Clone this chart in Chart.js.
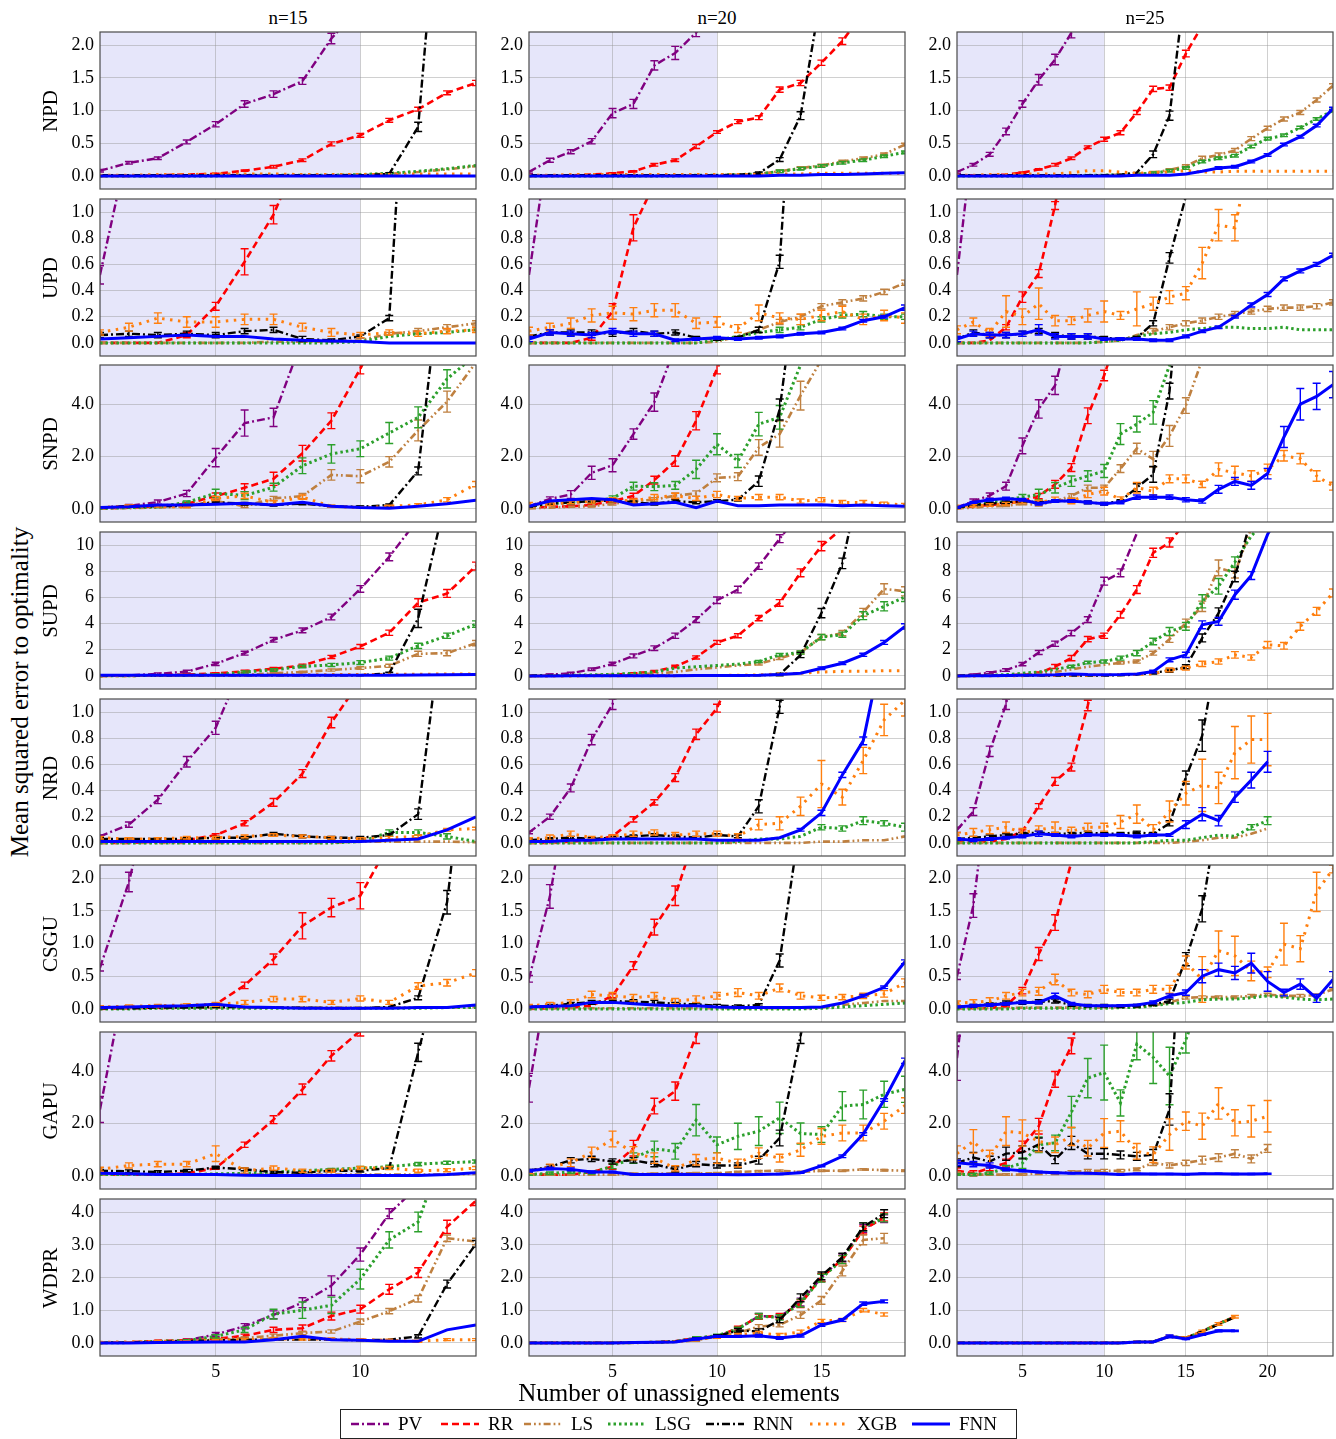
<!DOCTYPE html>
<html>
<head>
<meta charset="utf-8">
<script src="https://cdn.jsdelivr.net/npm/chart.js@4.4.1/dist/chart.umd.min.js"></script>
<style>
  body { margin: 0; background: #fff; width: 1336px; height: 1439px; position: relative; overflow: hidden; }
  canvas.panel { position: absolute; }
  .txt { position: absolute; white-space: nowrap; color: #000; font-family: 'Liberation Serif', serif; z-index: 5; }
</style>
</head>
<body>
<script>
// ---- categories / axes ----
const COL_TITLES = ['n=15', 'n=20', 'n=25'];
const ROWS = ['NPD', 'UPD', 'SNPD', 'SUPD', 'NRD', 'CSGU', 'GAPU', 'WDPR'];
const SERIES = ['PV', 'RR', 'LS', 'LSG', 'RNN', 'XGB', 'FNN'];
const X_MAX = [14, 19, 24];
const X_TICKS = [[5, 10], [5, 10, 15], [5, 10, 15, 20]];
const SHADE_TO = 10;
const Y_RANGE = { NPD: [-0.2, 2.2], UPD: [-0.1, 1.1], SNPD: [-0.5, 5.5], SUPD: [-1, 11],
                  NRD: [-0.1, 1.1], CSGU: [-0.2, 2.2], GAPU: [-0.5, 5.5], WDPR: [-0.4, 4.4] };
const Y_TICKS = { NPD: [0, 0.5, 1, 1.5, 2], UPD: [0, 0.2, 0.4, 0.6, 0.8, 1], SNPD: [0, 2, 4],
                  SUPD: [0, 2, 4, 6, 8, 10], NRD: [0, 0.2, 0.4, 0.6, 0.8, 1], CSGU: [0, 0.5, 1, 1.5, 2],
                  GAPU: [0, 2, 4], WDPR: [0, 1, 2, 3, 4] };

// ---- NPD ----
const NPD_15 = {
  PV:  [0.08,0.2,0.27,0.52,0.79,1.1,1.25,1.45,2.1,2.6],
  RR:  [0,0,0.01,0.02,0.03,0.08,0.14,0.24,0.49,0.62,0.85,1.02,1.27,1.42],
  LS:  [0,0,0,0,0.01,0.01,0.01,0.01,0.01,0.02,0.03,0.06,0.1,0.15],
  LSG: [0,0,0,0,0,0.01,0.01,0.01,0.01,0.02,0.04,0.07,0.11,0.16],
  RNN: [0.01,0.01,0.01,0.01,0.01,0.01,0.01,0.01,0.01,0.01,0.03,0.75,5.9],
  XGB: [0.01,0.01,0.02,0.02,0.03,0.03,0.03,0.02,0.02,0.02,0.02,0.03,0.03,0.03],
  FNN: [0,0,0,0,0,0,0,0,0,0,0,0,0,0]
};
const NPD_15_ERR = {
  PV:  [0.02,0.02,0.02,0.03,0.04,0.05,0.05,0.05,0.08],
  RR:  [0,0,0,0,0.01,0.01,0.02,0.02,0.03,0.03,0.03,0.03,0.03,0.04],
  RNN: [0,0,0,0,0,0,0,0,0,0,0.02,0.07]
};
const NPD_20 = {
  PV:  [0.06,0.24,0.37,0.53,0.96,1.1,1.69,1.88,2.19,2.6],
  RR:  [0,0,0.01,0.02,0.04,0.07,0.17,0.24,0.45,0.67,0.83,0.89,1.32,1.42,1.73,2.06,2.5],
  LS:  [0,0,0,0,0,0,0,0.01,0.01,0.01,0.02,0.03,0.07,0.12,0.16,0.22,0.27,0.33,0.48],
  LSG: [0,0,0,0,0,0,0,0,0.01,0.01,0.02,0.03,0.07,0.11,0.15,0.2,0.24,0.3,0.36],
  RNN: [0.01,0.01,0.01,0.01,0.01,0.01,0.01,0.01,0.01,0.01,0.02,0.04,0.25,0.92,2.8],
  XGB: [0.01,0.01,0.02,0.02,0.02,0.02,0.02,0.02,0.02,0.02,0.02,0.02,0.03,0.03,0.04,0.04,0.04,0.04,0.04],
  FNN: [0,0,0,0,0,0,0,0,0,0,0,0,0.01,0.01,0.02,0.02,0.03,0.04,0.05]
};
const NPD_20_ERR = {
  PV:  [0.02,0.03,0.03,0.04,0.07,0.07,0.07,0.1,0.06],
  RR:  [0,0,0,0,0.01,0.01,0.02,0.02,0.03,0.02,0.03,0.03,0.04,0.04,0.04,0.05],
  RNN: [0,0,0,0,0,0,0,0,0,0,0,0.02,0.03,0.06],
  LS:  [0,0,0,0,0,0,0,0,0,0,0,0,0.02,0.02,0.02,0.02,0.02,0.02,0.02],
  LSG: [0,0,0,0,0,0,0,0,0,0,0,0,0.02,0.02,0.02,0.02,0.02,0.02,0.02]
};
const NPD_25 = {
  PV:  [0.06,0.17,0.33,0.68,1.1,1.47,1.78,2.19,2.7],
  RR:  [0.01,0.01,0.01,0.02,0.05,0.1,0.17,0.27,0.44,0.56,0.66,0.97,1.33,1.35,1.87,2.3],
  LS:  [0,0,0,0,0,0,0,0.01,0.01,0.01,0.02,0.03,0.05,0.09,0.15,0.27,0.32,0.39,0.57,0.73,0.87,0.97,1.16,1.38],
  LSG: [0,0,0,0,0,0,0,0,0.01,0.01,0.02,0.03,0.04,0.08,0.12,0.22,0.27,0.31,0.45,0.57,0.62,0.74,0.87,1.0],
  RNN: [0.01,0.01,0.01,0.01,0.01,0.01,0.01,0.01,0.01,0.01,0.02,0.05,0.33,0.92,3.0],
  XGB: [0.01,0.01,0.02,0.02,0.03,0.03,0.03,0.05,0.08,0.08,0.06,0.04,0.05,0.06,0.08,0.06,0.06,0.07,0.07,0.07,0.07,0.07,0.07,0.07],
  FNN: [0,0,0,0,0,0,0,0,0,0,0,0.01,0.01,0.01,0.03,0.07,0.12,0.14,0.22,0.32,0.48,0.6,0.77,1.03]
};
const NPD_25_ERR = {
  PV:  [0.02,0.02,0.03,0.05,0.05,0.08,0.08,0.08],
  RR:  [0,0,0,0,0.01,0.01,0.02,0.02,0.02,0.03,0.03,0.03,0.04,0.04,0.05],
  RNN: [0,0,0,0,0,0,0,0,0,0,0,0,0.05,0.07],
  LS:  [0,0,0,0,0,0,0,0,0,0,0,0,0.02,0.02,0.02,0.03,0.03,0.03,0.03,0.03,0.03,0.03,0.03,0.03],
  LSG: [0,0,0,0,0,0,0,0,0,0,0,0,0.02,0.02,0.02,0.02,0.02,0.02,0.02,0.02,0.02,0.02,0.02,0.02],
  FNN: [0,0,0,0,0,0,0,0,0,0,0,0,0,0,0,0,0.02,0.02,0.02,0.02,0.02,0.02,0.02,0.02]
};

// ---- UPD ----
const UPD_15 = {
  PV:  [0.52,1.53],
  RR:  [0,0,0,0.06,0.28,0.62,0.98,1.5],
  LS:  [0,0,0,0,0,0,0.01,0.01,0.01,0.02,0.07,0.09,0.12,0.15],
  LSG: [0,0,0,0,0,0,0,0,0,0.01,0.05,0.07,0.08,0.1],
  RNN: [0.06,0.07,0.06,0.07,0.06,0.09,0.1,0.03,0.02,0.05,0.19,3.8],
  XGB: [0.08,0.12,0.19,0.16,0.16,0.18,0.18,0.12,0.08,0.06,0.08,0.07,0.09,0.1],
  FNN: [0.03,0.04,0.05,0.06,0.05,0.05,0.03,0.02,0.015,0.01,0,0,0,0]
};
const UPD_15_ERR = {
  PV:  [0.07],
  RR:  [0,0,0,0.02,0.03,0.1,0.07],
  XGB: [0.02,0.03,0.04,0.04,0.04,0.04,0.04,0.03,0.03,0.02,0.02,0.02,0.02,0.02],
  RNN: [0.02,0.02,0.02,0.02,0.02,0.02,0.02,0.02,0.01,0.01,0.02],
  LS:  [0,0,0,0,0,0,0,0,0,0,0.01,0.02,0.02,0.02]
};
const UPD_20 = {
  PV:  [0.52,1.6],
  RR:  [0,0,0,0.04,0.24,0.88,1.22],
  LS:  [0,0,0,0,0,0,0,0,0,0.01,0.05,0.1,0.16,0.2,0.28,0.31,0.34,0.39,0.46],
  LSG: [0,0,0,0,0,0,0,0,0,0.02,0.05,0.08,0.1,0.12,0.18,0.21,0.22,0.2,0.2],
  RNN: [0.05,0.08,0.08,0.08,0.07,0.09,0.07,0.08,0.04,0.03,0.04,0.1,0.62,3.0],
  XGB: [0.09,0.12,0.15,0.21,0.23,0.22,0.25,0.25,0.15,0.16,0.11,0.23,0.19,0.18,0.21,0.24,0.18,0.21,0.19],
  FNN: [0.03,0.08,0.07,0.06,0.09,0.07,0.07,0.02,0.03,0.04,0.03,0.04,0.05,0.07,0.08,0.11,0.17,0.2,0.27]
};
const UPD_20_ERR = {
  RR:  [0,0,0,0.02,0.06,0.1],
  RNN: [0.01,0.02,0.02,0.02,0.02,0.02,0.02,0.02,0.01,0.01,0.01,0.02,0.05],
  XGB: [0.03,0.03,0.04,0.05,0.05,0.05,0.05,0.05,0.04,0.04,0.03,0.06,0.04,0.04,0.04,0.04,0.04,0.04,0.04],
  LS:  [0,0,0,0,0,0,0,0,0,0,0,0.02,0.02,0.02,0.02,0.02,0.02,0.02,0.02],
  LSG: [0,0,0,0,0,0,0,0,0,0,0,0,0.02,0.02,0.02,0.02,0.02,0.02,0.02],
  FNN: [0.02,0.02,0.02,0.02,0.02,0.02,0.02,0.01,0.01,0.01,0.01,0.01,0.01,0.01,0.01,0.01,0.01,0.01,0.02]
};
const UPD_25 = {
  PV:  [0.52,1.6],
  RR:  [0,0,0.02,0.12,0.35,0.53,1.05,1.8],
  LS:  [0,0,0,0,0,0,0,0,0,0.01,0.02,0.06,0.09,0.12,0.15,0.17,0.2,0.22,0.24,0.26,0.27,0.27,0.28,0.31],
  LSG: [0,0,0,0,0,0,0,0,0,0.01,0.02,0.05,0.07,0.08,0.1,0.11,0.12,0.12,0.11,0.11,0.12,0.1,0.1,0.1],
  RNN: [0.03,0.08,0.06,0.06,0.07,0.09,0.06,0.05,0.05,0.04,0.03,0.04,0.15,0.65,1.12,1.8],
  XGB: [0.1,0.16,0.08,0.24,0.2,0.3,0.17,0.17,0.21,0.24,0.21,0.26,0.3,0.35,0.38,0.61,0.9,0.88,1.5],
  FNN: [0.03,0.07,0.06,0.06,0.07,0.1,0.05,0.05,0.05,0.03,0.03,0.03,0.02,0.02,0.05,0.09,0.12,0.2,0.29,0.37,0.49,0.55,0.6,0.67]
};
const UPD_25_ERR = {
  RR:  [0,0,0,0.02,0.04,0.03,0.03],
  XGB: [0.03,0.03,0.03,0.12,0.06,0.12,0.04,0.03,0.05,0.08,0.03,0.13,0.05,0.05,0.05,0.12,0.12,0.1],
  RNN: [0.02,0.02,0.02,0.02,0.02,0.02,0.02,0.02,0.02,0.01,0.01,0.01,0.02,0.04],
  LS:  [0,0,0,0,0,0,0,0,0,0,0,0,0.02,0.02,0.02,0.02,0.02,0.02,0.02,0.02,0.02,0.02,0.02,0.02],
  FNN: [0.02,0.02,0.02,0.02,0.02,0.04,0.02,0.02,0.02,0.01,0.01,0.01,0.01,0.01,0.01,0.01,0.01,0.01,0.015,0.015,0.015,0.015,0.015,0.015]
};

// ---- SNPD ----
const SNPD_15 = {
  PV:  [0.05,0.12,0.26,0.59,1.96,3.28,3.5,6.5],
  RR:  [0.02,0.05,0.1,0.2,0.49,0.81,1.15,2.13,3.37,5.36,7.5],
  LS:  [0.02,0.03,0.05,0.1,0.3,0.1,0.4,0.49,1.3,1.25,1.8,3.0,4.1,5.6],
  LSG: [0.02,0.05,0.08,0.25,0.6,0.51,0.83,1.65,2.1,2.3,2.9,3.5,4.97,5.9],
  RNN: [0.05,0.1,0.1,0.12,0.25,0.2,0.15,0.2,0.1,0.08,0.15,1.45,11],
  XGB: [0.05,0.12,0.1,0.07,0.4,0.5,0.25,0.45,0.1,0.05,0.1,0.15,0.35,0.95],
  FNN: [0.05,0.08,0.15,0.15,0.18,0.22,0.15,0.25,0.1,0.05,0.03,0.1,0.2,0.33]
};
const SNPD_15_ERR = {
  PV:  [0.03,0.05,0.08,0.12,0.35,0.5,0.35],
  RR:  [0,0,0.03,0.05,0.12,0.15,0.25,0.3,0.3,0.2],
  LSG: [0,0,0.03,0.05,0.15,0.15,0.15,0.3,0.35,0.3,0.4,0.4,0.35],
  LS:  [0,0,0,0.03,0.08,0.05,0.08,0.1,0.2,0.25,0.2,0.4,0.4],
  RNN: [0,0,0,0,0.05,0.05,0.04,0.04,0.03,0.03,0.04,0.15],
  XGB: [0.02,0.03,0.03,0.03,0.08,0.1,0.06,0.08,0.04,0.03,0.04,0.05,0.08,0.1]
};
const SNPD_20 = {
  PV:  [0.1,0.38,0.55,1.38,1.67,2.86,4.08,6.2],
  RR:  [0.05,0.08,0.1,0.15,0.3,0.5,1.1,1.83,3.37,5.36,7.0],
  LS:  [0.02,0.05,0.08,0.1,0.2,0.3,0.35,0.51,0.59,1.19,1.23,2.35,2.86,4.33,5.7],
  LSG: [0.1,0.2,0.25,0.3,0.4,0.87,0.85,0.9,1.51,2.47,1.83,3.24,3.5,5.5,7.0],
  RNN: [0.1,0.2,0.25,0.3,0.32,0.25,0.2,0.3,0.25,0.3,0.35,1.06,3.8,10],
  XGB: [0.2,0.18,0.25,0.28,0.35,0.3,0.45,0.5,0.4,0.55,0.4,0.45,0.45,0.3,0.35,0.25,0.25,0.2,0.15],
  FNN: [0.1,0.3,0.35,0.4,0.35,0.15,0.2,0.25,0.05,0.3,0.12,0.12,0.15,0.15,0.16,0.12,0.15,0.12,0.1]
};
const SNPD_20_ERR = {
  PV:  [0.03,0.08,0.15,0.25,0.25,0.2,0.35],
  RR:  [0,0,0.03,0.05,0.08,0.1,0.15,0.2,0.35,0.2],
  LSG: [0.03,0.05,0.05,0.08,0.1,0.15,0.15,0.15,0.35,0.4,0.25,0.45,0.45],
  LS:  [0,0,0,0.03,0.05,0.05,0.08,0.1,0.1,0.15,0.15,0.3,0.5,0.55],
  RNN: [0.03,0.05,0.05,0.05,0.05,0.05,0.05,0.05,0.05,0.05,0.05,0.2,0.4],
  XGB: [0.05,0.05,0.05,0.06,0.08,0.08,0.1,0.1,0.08,0.12,0.08,0.1,0.1,0.08,0.08,0.07,0.07,0.06,0.06]
};
const SNPD_25 = {
  PV:  [0.05,0.3,0.51,0.87,2.41,3.82,4.72,7.1],
  RR:  [0.02,0.1,0.15,0.2,0.3,0.49,0.94,1.58,3.56,5.1,7.0],
  LS:  [0.02,0.05,0.1,0.12,0.2,0.15,0.3,0.5,0.81,0.81,1.54,2.31,1.9,2.79,3.95,5.7],
  LSG: [0.05,0.15,0.25,0.35,0.45,0.55,0.81,1.06,1.26,1.45,2.86,3.24,3.69,5.49,7.0],
  RNN: [0.05,0.15,0.2,0.25,0.3,0.25,0.3,0.3,0.25,0.2,0.3,0.81,1.32,4.5,11],
  XGB: [0.1,0.12,0.15,0.2,0.3,0.25,0.35,0.3,0.55,0.68,0.36,0.81,0.68,1.15,1.15,0.94,1.51,1.38,1.26,1.51,2.03,1.92,1.26,0.87],
  FNN: [0.05,0.25,0.35,0.4,0.35,0.2,0.3,0.3,0.25,0.2,0.25,0.45,0.45,0.45,0.35,0.3,0.75,1.05,0.9,1.35,2.75,4.0,4.3,4.75]
};
const SNPD_25_ERR = {
  PV:  [0.03,0.08,0.1,0.15,0.3,0.35,0.35],
  RR:  [0,0,0.03,0.05,0.05,0.1,0.15,0.15,0.3,0.2],
  LSG: [0.02,0.04,0.05,0.08,0.1,0.2,0.2,0.2,0.2,0.25,0.4,0.3,0.45],
  LS:  [0,0,0,0.03,0.04,0.04,0.05,0.08,0.1,0.1,0.15,0.2,0.3,0.4,0.3],
  RNN: [0.02,0.04,0.04,0.05,0.05,0.05,0.05,0.05,0.05,0.05,0.05,0.15,0.3,0.3],
  XGB: [0.03,0.04,0.05,0.05,0.08,0.08,0.1,0.1,0.12,0.15,0.1,0.2,0.15,0.15,0.15,0.12,0.25,0.25,0.2,0.2,0.2,0.2,0.2,0.15],
  FNN: [0.02,0.04,0.05,0.05,0.05,0.05,0.05,0.05,0.05,0.05,0.05,0.08,0.08,0.08,0.08,0.08,0.15,0.15,0.15,0.2,0.4,0.6,0.5,0.5]
};

// ---- SUPD ----
const SUPD_15 = {
  PV:  [0,0.05,0.15,0.33,0.92,1.74,2.76,3.48,4.5,6.65,9.1,12],
  RR:  [0,0.02,0.05,0.1,0.2,0.35,0.55,0.8,1.45,2.25,3.3,5.6,6.3,8.4],
  LS:  [0,0,0.02,0.03,0.05,0.08,0.2,0.3,0.45,0.6,0.77,1.69,1.74,2.51],
  LSG: [0,0.02,0.03,0.05,0.1,0.3,0.46,0.72,0.84,1.02,1.36,2.3,3.07,3.96],
  RNN: [0.05,0.05,0.05,0.05,0.05,0.05,0.05,0.05,0.05,0.05,0.2,4.4,14],
  XGB: [0.02,0.02,0.03,0.03,0.05,0.05,0.08,0.08,0.1,0.1,0.12,0.12,0.15,0.15],
  FNN: [0.05,0.05,0.05,0.05,0.05,0.05,0.05,0.05,0.05,0.05,0.06,0.07,0.08,0.1]
};
const SUPD_15_ERR = {
  PV:  [0.02,0.05,0.08,0.1,0.12,0.15,0.18,0.18,0.22,0.25,0.3],
  RR:  [0,0,0,0.05,0.05,0.08,0.1,0.1,0.12,0.15,0.2,0.3,0.3,0.3],
  LSG: [0,0,0,0,0.05,0.08,0.1,0.1,0.12,0.15,0.15,0.2,0.2,0.25],
  LS:  [0,0,0,0,0,0.05,0.05,0.06,0.08,0.1,0.12,0.2,0.2,0.2],
  RNN: [0,0,0,0,0,0,0,0,0,0,0.08,0.7]
};
const SUPD_20 = {
  PV:  [0,0.1,0.2,0.51,0.92,1.53,2.12,3.07,4.3,5.78,6.6,8.39,10.49,12.5],
  RR:  [0,0.02,0.03,0.05,0.08,0.2,0.33,0.72,1.41,2.56,3.07,4.42,5.58,7.88,9.92,11.3],
  LS:  [0,0.02,0.03,0.05,0.08,0.12,0.18,0.3,0.5,0.65,0.8,0.92,1.36,1.79,2.97,3.27,4.86,6.65,6.47],
  LSG: [0,0.02,0.05,0.08,0.12,0.2,0.3,0.6,0.7,0.8,0.9,1.1,1.61,1.79,2.97,3.15,4.6,5.32,6.04],
  RNN: [0.02,0.02,0.02,0.02,0.02,0.02,0.02,0.02,0.02,0.02,0.02,0.05,0.1,1.6,4.8,8.6,16],
  XGB: [0,0,0,0.01,0.01,0.01,0.02,0.02,0.03,0.03,0.05,0.08,0.15,0.2,0.3,0.35,0.35,0.4,0.4],
  FNN: [0,0,0.01,0.01,0.01,0.02,0.02,0.02,0.03,0.03,0.04,0.05,0.1,0.2,0.59,0.97,1.61,2.56,3.79]
};
const SUPD_20_ERR = {
  PV:  [0,0.05,0.08,0.1,0.12,0.15,0.18,0.2,0.22,0.25,0.25,0.25,0.3],
  RR:  [0,0,0,0,0,0.05,0.08,0.1,0.12,0.15,0.15,0.2,0.25,0.3,0.35],
  LS:  [0,0,0,0,0,0,0,0,0,0,0,0.08,0.1,0.12,0.2,0.2,0.3,0.4,0.35],
  LSG: [0,0,0,0,0,0,0,0,0,0,0,0.08,0.1,0.12,0.2,0.2,0.3,0.35,0.35],
  RNN: [0,0,0,0,0,0,0,0,0,0,0,0,0.1,0.2,0.35,0.4],
  FNN: [0,0,0,0,0,0,0,0,0,0,0,0,0,0,0.1,0.1,0.12,0.15,0.2]
};
const SUPD_25 = {
  PV:  [0,0.1,0.25,0.45,0.9,1.79,2.46,3.27,4.3,7.24,7.88,10.9,13],
  RR:  [0,0.02,0.03,0.05,0.1,0.2,0.72,1.36,2.81,3.07,4.68,6.6,9.41,10.2,11.8],
  LS:  [0,0.02,0.03,0.05,0.1,0.15,0.3,0.5,0.7,0.85,1.0,1.1,1.74,2.81,4.04,5.32,8.26,7.88,11.3],
  LSG: [0,0.02,0.05,0.1,0.2,0.3,0.5,0.72,1.02,1.1,1.36,1.74,2.63,3.4,3.79,5.7,6.85,8.7,10.7,12],
  RNN: [0.02,0.02,0.02,0.02,0.02,0.02,0.02,0.02,0.03,0.03,0.05,0.1,0.25,0.4,0.7,2.9,4.8,7.6,12],
  XGB: [0,0,0.01,0.01,0.02,0.03,0.04,0.05,0.06,0.08,0.1,0.12,0.15,0.46,0.59,0.92,1.1,1.61,1.41,2.38,2.3,3.79,4.94,6.34],
  FNN: [0,0.01,0.02,0.03,0.05,0.06,0.08,0.15,0.1,0.08,0.1,0.15,0.33,1.23,1.61,3.91,4.17,6.21,7.67,10.82,13]
};
const SUPD_25_ERR = {
  PV:  [0,0.05,0.08,0.1,0.12,0.15,0.2,0.2,0.22,0.3,0.3],
  RR:  [0,0,0,0,0,0.1,0.15,0.2,0.2,0.2,0.25,0.3,0.35,0.35],
  LSG: [0,0,0,0,0,0,0,0.1,0.1,0.12,0.15,0.2,0.25,0.3,0.3,0.5,0.6,0.4],
  LS:  [0,0,0,0,0,0,0,0,0,0,0.1,0.12,0.15,0.25,0.3,0.4,0.6,0.4],
  RNN: [0,0,0,0,0,0,0,0,0,0,0,0,0.1,0.12,0.15,0.3,0.4,0.4],
  XGB: [0,0,0,0,0,0,0,0,0,0,0,0,0,0.15,0.15,0.2,0.2,0.25,0.2,0.25,0.25,0.3,0.3,0.3],
  FNN: [0,0,0,0,0,0,0,0,0,0,0,0,0.1,0.15,0.2,0.3,0.3,0.35,0.3]
};

// ---- NRD ----
const NRD_15 = {
  PV:  [0.05,0.14,0.33,0.62,0.88,1.4],
  RR:  [0,0,0.01,0.02,0.06,0.15,0.31,0.53,0.92,1.24],
  LS:  [0,0,0,0,0,0,0,0,0,0.01,0.01,0.01,0.01,0.005],
  LSG: [0,0,0,0,0,0,0,0,0,0.01,0.08,0.08,0.05,0.01],
  RNN: [0.03,0.03,0.03,0.03,0.04,0.04,0.07,0.05,0.04,0.04,0.06,0.22,1.98],
  XGB: [0.04,0.03,0.03,0.04,0.04,0.05,0.06,0.05,0.04,0.03,0.04,0.05,0.1,0.11],
  FNN: [0.01,0.01,0.01,0.01,0.01,0.01,0.01,0.01,0.01,0.01,0.02,0.03,0.1,0.2]
};
const NRD_15_ERR = {
  PV:  [0.01,0.02,0.03,0.04,0.05],
  RR:  [0,0,0,0,0.01,0.02,0.03,0.03,0.04],
  RNN: [0.01,0.01,0.01,0.01,0.01,0.01,0.01,0.01,0.01,0.01,0.01,0.04],
  XGB: [0.01,0.01,0.01,0.01,0.01,0.01,0.01,0.01,0.01,0.01,0.01,0.01,0.01,0.01],
  LSG: [0,0,0,0,0,0,0,0,0,0,0.02,0.02,0.02]
};
const NRD_20 = {
  PV:  [0.08,0.2,0.42,0.79,1.06,1.7],
  RR:  [0,0,0.01,0.02,0.05,0.18,0.31,0.5,0.83,1.03,1.4],
  LS:  [0,0,0,0,0,0,0,0,0,0,0,0,0,0,0.01,0.01,0.02,0.02,0.05],
  LSG: [0,0,0,0,0,0,0,0,0,0,0.01,0.03,0.03,0.05,0.12,0.11,0.17,0.15,0.12],
  RNN: [0.02,0.03,0.04,0.03,0.04,0.05,0.06,0.05,0.04,0.06,0.05,0.28,1.04,2.0],
  XGB: [0.03,0.04,0.07,0.04,0.05,0.07,0.08,0.06,0.07,0.07,0.05,0.14,0.15,0.28,0.45,0.35,0.63,0.94,1.09],
  FNN: [0.01,0.01,0.02,0.02,0.03,0.03,0.03,0.03,0.03,0.02,0.02,0.02,0.04,0.1,0.23,0.52,0.78,1.55]
};
const NRD_20_ERR = {
  PV:  [0.01,0.02,0.03,0.04,0.04],
  RR:  [0,0,0,0,0.01,0.02,0.02,0.03,0.04,0.03],
  RNN: [0.01,0.01,0.01,0.01,0.01,0.01,0.01,0.01,0.01,0.01,0.01,0.05,0.05],
  XGB: [0.01,0.02,0.02,0.01,0.01,0.02,0.02,0.02,0.02,0.02,0.02,0.04,0.05,0.07,0.18,0.06,0.1,0.12,0.12],
  LSG: [0,0,0,0,0,0,0,0,0,0,0,0,0,0,0.02,0.02,0.03,0.02,0.03],
  FNN: [0,0,0,0,0,0,0,0,0,0,0,0,0,0.01,0.02,0.02,0.03]
};
const NRD_25 = {
  PV:  [0.1,0.24,0.7,1.06,1.7],
  RR:  [0.01,0.01,0.01,0.03,0.09,0.28,0.47,0.58,1.05,1.6],
  LS:  [0,0,0,0,0,0,0,0,0,0,0,0,0,0,0.01,0.02,0.04,0.04,0.07,0.11],
  LSG: [0,0,0,0,0,0,0,0,0,0,0,0,0.01,0.02,0.02,0.04,0.06,0.05,0.12,0.17],
  RNN: [0.03,0.04,0.05,0.06,0.07,0.08,0.07,0.07,0.08,0.07,0.07,0.08,0.07,0.15,0.5,0.82,1.52],
  XGB: [0.06,0.08,0.1,0.12,0.08,0.1,0.12,0.09,0.12,0.12,0.16,0.22,0.1,0.24,0.38,0.44,0.42,0.69,0.79,0.79],
  FNN: [0.03,0.02,0.03,0.04,0.05,0.07,0.06,0.05,0.06,0.06,0.06,0.05,0.06,0.06,0.14,0.22,0.17,0.35,0.48,0.62]
};
const NRD_25_ERR = {
  PV:  [0.02,0.03,0.04,0.04],
  RR:  [0,0,0,0,0.01,0.02,0.03,0.03,0.04],
  RNN: [0.01,0.01,0.01,0.01,0.01,0.01,0.01,0.01,0.01,0.01,0.01,0.01,0.01,0.02,0.05,0.12],
  XGB: [0.02,0.03,0.03,0.04,0.03,0.03,0.04,0.03,0.03,0.03,0.05,0.07,0.04,0.08,0.09,0.2,0.12,0.2,0.18,0.2],
  FNN: [0.01,0.01,0.01,0.01,0.01,0.02,0.01,0.01,0.01,0.01,0.01,0.01,0.01,0.01,0.03,0.05,0.04,0.04,0.06,0.08],
  LSG: [0,0,0,0,0,0,0,0,0,0,0,0,0,0,0,0,0,0,0.02,0.03]
};

// ---- CSGU ----
const CSGU_15 = {
  PV:  [0.63,1.94,3.8],
  RR:  [0,0.01,0.02,0.03,0.07,0.36,0.76,1.27,1.55,1.73,2.53],
  LS:  [0.01,0.01,0.01,0.02,0.02,0.02,0.02,0.02,0.02,0.02,0.02,0.02,0.02,0.03],
  LSG: [0,0,0.01,0.01,0.01,0.01,0.01,0.01,0.01,0.01,0.01,0.01,0.02,0.02],
  RNN: [0.01,0.01,0.02,0.02,0.03,0.03,0.02,0.02,0.01,0.01,0.03,0.17,1.63,5.4],
  XGB: [0.03,0.04,0.05,0.06,0.07,0.1,0.15,0.15,0.1,0.16,0.1,0.35,0.4,0.55],
  FNN: [0.02,0.03,0.04,0.05,0.07,0.03,0.02,0.01,0.01,0.01,0.01,0.02,0.02,0.06]
};
const CSGU_15_ERR = {
  PV:  [0.05,0.15],
  RR:  [0,0,0,0,0.02,0.05,0.08,0.2,0.14,0.2],
  RNN: [0,0,0,0,0,0,0,0,0,0,0,0.03,0.18],
  XGB: [0.02,0.02,0.02,0.02,0.03,0.03,0.04,0.04,0.03,0.04,0.03,0.05,0.05,0.05]
};
const CSGU_20 = {
  PV:  [0.46,1.72,3.6],
  RR:  [0,0.01,0.02,0.05,0.2,0.66,1.25,1.73,2.7],
  LS:  [0.01,0.01,0.01,0.01,0.01,0.01,0.01,0.01,0.01,0.01,0.01,0.01,0.01,0.01,0.02,0.06,0.09,0.12,0.12],
  LSG: [0,0,0,0,0,0,0,0,0,0,0,0,0,0,0.01,0.03,0.05,0.07,0.09],
  RNN: [0.03,0.05,0.08,0.1,0.12,0.11,0.1,0.08,0.07,0.05,0.04,0.06,0.74,2.9],
  XGB: [0.05,0.07,0.1,0.22,0.2,0.17,0.2,0.12,0.15,0.2,0.25,0.2,0.32,0.2,0.17,0.18,0.2,0.23,0.4],
  FNN: [0.03,0.04,0.05,0.1,0.1,0.08,0.06,0.05,0.05,0.03,0.02,0.02,0.02,0.02,0.03,0.09,0.2,0.33,0.72]
};
const CSGU_20_ERR = {
  PV:  [0.05,0.18],
  RR:  [0,0,0,0,0.03,0.06,0.12,0.15],
  RNN: [0.01,0.02,0.02,0.03,0.03,0.03,0.03,0.02,0.02,0.02,0.02,0.02,0.1],
  XGB: [0.02,0.03,0.04,0.05,0.05,0.05,0.05,0.04,0.05,0.05,0.06,0.05,0.06,0.05,0.04,0.04,0.04,0.05,0.06],
  FNN: [0,0,0,0,0,0,0,0,0,0,0,0,0,0,0,0,0.02,0.02,0.03]
};
const CSGU_25 = {
  PV:  [0.5,1.58,3.6],
  RR:  [0.01,0.01,0.01,0.05,0.28,0.84,1.32,2.25],
  LS:  [0.01,0.01,0.01,0.01,0.02,0.02,0.02,0.02,0.02,0.02,0.03,0.03,0.05,0.1,0.17,0.18,0.18,0.18,0.2,0.22,0.2,0.2,0.21,0.3],
  LSG: [0,0,0,0,0.01,0.01,0.01,0.01,0.01,0.01,0.02,0.02,0.05,0.08,0.1,0.14,0.15,0.15,0.17,0.2,0.18,0.15,0.14,0.15],
  RNN: [0.03,0.05,0.07,0.09,0.1,0.11,0.12,0.06,0.05,0.05,0.04,0.05,0.07,0.12,0.76,1.53,3.05],
  XGB: [0.09,0.1,0.12,0.2,0.25,0.27,0.45,0.25,0.22,0.3,0.25,0.25,0.3,0.3,0.71,0.45,0.89,0.81,0.58,0.56,0.99,0.92,1.79,2.14],
  FNN: [0.03,0.05,0.06,0.08,0.1,0.1,0.2,0.08,0.05,0.05,0.05,0.06,0.1,0.2,0.25,0.5,0.6,0.55,0.7,0.42,0.25,0.38,0.16,0.45]
};
const CSGU_25_ERR = {
  PV:  [0.05,0.18],
  RR:  [0,0,0,0.02,0.05,0.1,0.12],
  RNN: [0.01,0.02,0.02,0.03,0.03,0.03,0.03,0.02,0.02,0.02,0.02,0.02,0.02,0.03,0.1,0.2],
  XGB: [0.03,0.04,0.05,0.05,0.05,0.06,0.08,0.05,0.05,0.06,0.05,0.05,0.06,0.06,0.1,0.35,0.3,0.3,0.15,0.08,0.32,0.2,0.3,0.06],
  FNN: [0.01,0.02,0.02,0.02,0.02,0.02,0.04,0.02,0.01,0.01,0.01,0.01,0.02,0.03,0.04,0.1,0.1,0.1,0.15,0.15,0.05,0.08,0.06,0.12],
  LS:  [0,0,0,0,0,0,0,0,0,0,0,0,0,0,0.02,0.02,0.02,0.02,0.02,0.02,0.02,0.02,0.02,0.02]
};

// ---- GAPU ----
const GAPU_15 = {
  PV:  [2.54,8.3],
  RR:  [0.05,0.05,0.05,0.1,0.3,1.19,2.15,3.31,4.59,5.55,7.0],
  LS:  [0.05,0.05,0.05,0.05,0.05,0.05,0.05,0.05,0.05,0.05,0.05,0.05,0.05,0.08],
  LSG: [0.05,0.05,0.05,0.05,0.08,0.1,0.15,0.2,0.25,0.3,0.35,0.45,0.5,0.55],
  RNN: [0.2,0.18,0.15,0.2,0.32,0.25,0.15,0.12,0.2,0.2,0.3,4.72,9.0],
  XGB: [0.25,0.4,0.45,0.45,0.85,0.2,0.3,0.2,0.2,0.3,0.3,0.2,0.22,0.3],
  FNN: [0.1,0.08,0.05,0.05,0.05,0.03,0.02,0.02,0.02,0.02,0.02,0.02,0.05,0.12]
};
const GAPU_15_ERR = {
  PV:  [0.5],
  RR:  [0,0,0,0,0.05,0.1,0.15,0.2,0.2,0.2],
  RNN: [0.05,0.05,0.05,0.05,0.05,0.05,0.05,0.05,0.05,0.05,0.05,0.35],
  XGB: [0.08,0.1,0.1,0.1,0.3,0.1,0.08,0.06,0.06,0.06,0.06,0.06,0.06,0.06],
  LSG: [0,0,0,0,0,0,0,0,0.04,0.06,0.06,0.06,0.06,0.06]
};
const GAPU_20 = {
  PV:  [3.37,8.0],
  RR:  [0.05,0.05,0.05,0.15,0.35,1.06,2.67,3.24,5.36,8.0],
  LS:  [0.05,0.05,0.05,0.05,0.05,0.08,0.08,0.1,0.1,0.1,0.15,0.18,0.2,0.15,0.2,0.2,0.25,0.22,0.2],
  LSG: [0.05,0.1,0.15,0.12,0.38,0.68,1.03,0.94,2.13,1.19,1.51,1.71,2.22,1.62,1.58,2.67,2.73,3.12,3.31],
  RNN: [0.2,0.35,0.6,0.65,0.55,0.6,0.45,0.25,0.45,0.4,0.4,0.6,1.45,5.36,9.0],
  XGB: [0.15,0.35,0.5,0.9,1.41,0.87,0.68,0.29,0.62,0.68,0.49,0.87,0.68,1.0,1.51,1.64,1.64,2.09,2.69],
  FNN: [0.2,0.28,0.25,0.15,0.15,0.05,0.05,0.06,0.05,0.05,0.04,0.05,0.07,0.12,0.38,0.75,1.6,2.9,4.4]
};
const GAPU_20_ERR = {
  PV:  [0.55],
  RR:  [0,0,0,0,0.1,0.3,0.3,0.35,0.3],
  LSG: [0.03,0.05,0.05,0.05,0.1,0.2,0.3,0.3,0.6,0.3,0.5,0.55,0.6,0.4,0.3,0.55,0.55,0.5,0.5],
  RNN: [0.05,0.08,0.1,0.1,0.1,0.1,0.1,0.1,0.1,0.1,0.1,0.15,0.3,0.3],
  XGB: [0.06,0.1,0.15,0.2,0.3,0.25,0.2,0.1,0.2,0.2,0.15,0.2,0.15,0.25,0.3,0.3,0.3,0.3,0.3],
  FNN: [0.05,0.05,0.05,0.04,0.03,0.02,0.02,0.02,0.02,0.02,0.02,0.02,0.02,0.02,0.03,0.05,0.05,0.05,0.1],
  LS:  [0.03,0.03,0.03,0.03,0.03,0.03,0.03,0.03,0.03,0.03,0.03,0.03,0.03,0.03,0.03,0.03,0.03,0.03,0.03]
};
const GAPU_25 = {
  PV:  [4.5,10],
  RR:  [0.2,0.1,0.3,0.49,1.13,1.9,3.69,4.97,8.0],
  LS:  [0.1,0.05,0.05,0.05,0.05,0.1,0.1,0.15,0.2,0.2,0.2,0.25,0.5,0.4,0.5,0.6,0.7,0.85,0.65,1.05],
  LSG: [0.05,0.05,0.1,0.3,0.49,1.19,1.26,2.44,3.74,3.95,2.79,5.04,4.53,3.82,5.2,7.0],
  RNN: [0.5,0.7,0.55,0.85,0.9,1.2,0.62,1.26,0.85,0.85,0.8,0.75,0.81,2.54,12],
  XGB: [0.85,1.32,0.68,1.71,1.64,1.32,1.19,1.51,1.06,1.64,1.71,0.94,0.81,1.58,2.09,1.9,2.77,2.03,2.09,2.28],
  FNN: [0.5,0.45,0.4,0.25,0.2,0.15,0.12,0.1,0.1,0.08,0.05,0.08,0.07,0.07,0.06,0.08,0.08,0.07,0.07,0.08]
};
const GAPU_25_ERR = {
  PV:  [0.85],
  RR:  [0.1,0.1,0.1,0.15,0.2,0.3,0.3,0.3],
  LSG: [0.03,0.05,0.05,0.1,0.2,0.3,0.3,0.6,0.75,1.05,0.5,0.6,1.0,1.1,0.5],
  RNN: [0.15,0.2,0.2,0.25,0.25,0.25,0.15,0.25,0.2,0.2,0.15,0.15,0.2,0.6],
  XGB: [0.3,0.45,0.3,0.55,0.5,0.4,0.3,0.35,0.3,0.55,0.4,0.3,0.3,0.6,0.35,0.5,0.6,0.5,0.6,0.6],
  LS:  [0.05,0.03,0.03,0.03,0.03,0.05,0.05,0.05,0.05,0.05,0.05,0.05,0.1,0.1,0.1,0.15,0.15,0.15,0.15,0.15],
  FNN: [0.1,0.1,0.1,0.05,0.04,0.03,0.03,0.02,0.02,0.02,0.02,0.02,0.02,0.02,0.02,0.02,0.02,0.02,0.02,0.02]
};

// ---- WDPR ----
const WDPR_15 = {
  PV:  [0,0.01,0.03,0.08,0.26,0.51,0.86,1.23,1.75,2.7,3.95,4.8],
  RR:  [0,0.02,0.06,0.08,0.12,0.22,0.4,0.45,0.82,1.03,1.64,2.15,3.55,4.35],
  LS:  [0,0.01,0.02,0.05,0.1,0.15,0.22,0.3,0.35,0.65,0.97,1.35,3.2,3.1],
  LSG: [0,0.01,0.05,0.07,0.2,0.4,0.88,1.0,1.15,1.95,3.15,3.7,6.2],
  RNN: [0,0.01,0.03,0.05,0.08,0.1,0.1,0.1,0.1,0.08,0.1,0.2,1.8,3.03],
  XGB: [0.02,0.03,0.05,0.05,0.08,0.1,0.12,0.12,0.12,0.1,0.08,0.05,0.1,0.1],
  FNN: [0,0,0.01,0.02,0.03,0.03,0.1,0.2,0.1,0.08,0.05,0.05,0.4,0.55]
};
const WDPR_15_ERR = {
  PV:  [0,0,0.02,0.04,0.06,0.08,0.12,0.15,0.3,0.2,0.15],
  RR:  [0,0,0.02,0.03,0.04,0.05,0.08,0.1,0.12,0.12,0.15,0.15,0.2,0.15],
  LSG: [0,0,0.02,0.03,0.05,0.08,0.15,0.25,0.25,0.3,0.25,0.3],
  LS:  [0,0,0,0.02,0.03,0.03,0.05,0.05,0.05,0.08,0.08,0.1,0.1,0.1],
  RNN: [0,0,0,0,0,0,0,0,0,0,0,0.05,0.12,0.1],
  XGB: [0.01,0.01,0.02,0.02,0.02,0.03,0.03,0.03,0.03,0.03,0.03,0.03,0.03,0.03]
};
const WDPR_20 = {
  PV:  [0,0,0,0,0,0.01,0.02,0.05,0.15,0.2,0.42,0.82,0.8,1.25,2.0,2.6,3.5,3.8],
  RR:  [0,0,0,0,0,0.01,0.02,0.05,0.15,0.2,0.45,0.8,0.82,1.2,2.0,2.55,3.45,3.85],
  LS:  [0,0,0,0,0,0,0.01,0.03,0.08,0.2,0.3,0.5,0.55,0.85,1.3,2.2,3.15,3.2],
  LSG: [0,0,0,0,0,0.01,0.02,0.04,0.15,0.22,0.42,0.82,0.78,1.22,1.98,2.55,3.55,3.82],
  RNN: [0,0,0,0,0,0.01,0.02,0.04,0.12,0.2,0.38,0.35,0.7,1.38,2.05,2.62,3.55,3.95],
  XGB: [0,0,0,0,0,0.01,0.02,0.04,0.1,0.18,0.25,0.3,0.24,0.34,0.67,0.7,1.0,0.87],
  FNN: [0,0,0,0,0,0.01,0.02,0.03,0.12,0.2,0.2,0.22,0.15,0.22,0.55,0.7,1.2,1.27]
};
const WDPR_20_ERR = {
  PV:  [0,0,0,0,0,0,0,0,0.04,0.05,0.06,0.08,0.08,0.12,0.12,0.12,0.12,0.12],
  RR:  [0,0,0,0,0,0,0,0,0.04,0.05,0.06,0.08,0.08,0.12,0.12,0.12,0.12,0.12],
  LSG: [0,0,0,0,0,0,0,0,0.04,0.05,0.06,0.08,0.08,0.12,0.12,0.12,0.12,0.12],
  RNN: [0,0,0,0,0,0,0,0,0.04,0.05,0.06,0.08,0.08,0.12,0.12,0.12,0.12,0.12],
  LS:  [0,0,0,0,0,0,0,0,0.03,0.04,0.05,0.06,0.06,0.1,0.12,0.15,0.15,0.15],
  XGB: [0,0,0,0,0,0,0,0,0.03,0.04,0.04,0.05,0.05,0.05,0.05,0.05,0.05,0.05],
  FNN: [0,0,0,0,0,0,0,0,0.03,0.03,0.03,0.04,0.04,0.04,0.04,0.04,0.05,0.04]
};
const WDPR_25 = {
  PV:  [0,0,0,0,0,0,0,0,0,0,0,0.03,0.03,0.2,0.15,0.35,0.58,0.8],
  RR:  [0,0,0,0,0,0,0,0,0,0,0,0.03,0.03,0.2,0.15,0.36,0.59,0.8],
  LS:  [0,0,0,0,0,0,0,0,0,0,0,0.03,0.04,0.19,0.14,0.34,0.6,0.78],
  LSG: [0,0,0,0,0,0,0,0,0,0,0,0.03,0.03,0.2,0.15,0.35,0.58,0.8],
  RNN: [0,0,0,0,0,0,0,0,0,0,0,0.03,0.03,0.2,0.15,0.35,0.57,0.79],
  XGB: [0,0,0,0,0,0,0,0,0,0,0,0.03,0.03,0.2,0.15,0.35,0.58,0.8],
  FNN: [0,0,0,0,0,0,0,0,0,0,0,0.03,0.03,0.2,0.12,0.25,0.37,0.37]
};
const WDPR_25_ERR = {
  XGB: [0,0,0,0,0,0,0,0,0,0,0,0,0,0.03,0.03,0.04,0.04,0.04],
  FNN: [0,0,0,0,0,0,0,0,0,0,0,0,0,0.04,0.02,0.02,0.03,0.02]
};

const PANELS = {
  NPD: [[NPD_15, NPD_15_ERR], [NPD_20, NPD_20_ERR], [NPD_25, NPD_25_ERR]],
  UPD: [[UPD_15, UPD_15_ERR], [UPD_20, UPD_20_ERR], [UPD_25, UPD_25_ERR]],
  SNPD: [[SNPD_15, SNPD_15_ERR], [SNPD_20, SNPD_20_ERR], [SNPD_25, SNPD_25_ERR]],
  SUPD: [[SUPD_15, SUPD_15_ERR], [SUPD_20, SUPD_20_ERR], [SUPD_25, SUPD_25_ERR]],
  NRD: [[NRD_15, NRD_15_ERR], [NRD_20, NRD_20_ERR], [NRD_25, NRD_25_ERR]],
  CSGU: [[CSGU_15, CSGU_15_ERR], [CSGU_20, CSGU_20_ERR], [CSGU_25, CSGU_25_ERR]],
  GAPU: [[GAPU_15, GAPU_15_ERR], [GAPU_20, GAPU_20_ERR], [GAPU_25, GAPU_25_ERR]],
  WDPR: [[WDPR_15, WDPR_15_ERR], [WDPR_20, WDPR_20_ERR], [WDPR_25, WDPR_25_ERR]]
};

// ---- styles / layout ----
const STYLE = {
  PV:  { color: '#800080', dash: [8, 3, 2, 3], w: 2.4 },
  RR:  { color: '#ff0000', dash: [7, 4], w: 2.6 },
  LS:  { color: '#bf8040', dash: [7, 3, 1.8, 3, 1.8, 3], w: 2.6 },
  LSG: { color: '#2ca02c', dash: [2.5, 3], w: 3 },
  RNN: { color: '#000000', dash: [8, 3, 2, 3], w: 2.4 },
  XGB: { color: '#ff7f0e', dash: [2.5, 5.5], w: 3 },
  FNN: { color: '#0000ff', dash: [], w: 3 }
};
const FONT = "'Liberation Serif', serif";
const AREA_LEFT = [100, 529, 957], AREA_W = 376, AREA_H = 157;
const ROW_TOP0 = 32, ROW_PITCH = 166.65;
const YAX_W = 50, PAD = 3, XAX_H = 30;
const GRID = 'rgba(150,150,150,0.45)';

Chart.defaults.font.family = FONT;
Chart.defaults.font.size = 18;
Chart.defaults.color = '#000';

const shade = {
  id: 'shade',
  beforeDraw(chart) {
    const { ctx, chartArea: a, scales: { x } } = chart;
    const x1 = Math.min(x.getPixelForValue(SHADE_TO), a.right);
    ctx.save();
    ctx.fillStyle = 'rgb(230,230,250)';
    ctx.fillRect(a.left, a.top, x1 - a.left, a.bottom - a.top);
    ctx.restore();
  },
  afterDraw(chart) {
    const { ctx, chartArea: a } = chart;
    ctx.save();
    ctx.strokeStyle = '#4a4a4a';
    ctx.lineWidth = 1.2;
    ctx.strokeRect(a.left, a.top, a.right - a.left, a.bottom - a.top);
    ctx.restore();
  }
};

const errorBars = {
  id: 'errorBars',
  afterDatasetDraw(chart, args) {
    const ds = chart.data.datasets[args.index];
    if (!ds.errors) return;
    const { ctx, chartArea: a, scales: { x, y } } = chart;
    ctx.save();
    ctx.beginPath();
    ctx.rect(a.left, a.top, a.right - a.left, a.bottom - a.top);
    ctx.clip();
    ctx.strokeStyle = ds.borderColor;
    ctx.lineWidth = 1.4;
    ctx.setLineDash([]);
    ds.errors.forEach((e, i) => {
      const p = ds.data[i];
      if (!e || !p) return;
      const px = x.getPixelForValue(p.x);
      const lo = y.getPixelForValue(p.y - e), hi = y.getPixelForValue(p.y + e);
      ctx.beginPath();
      ctx.moveTo(px, lo); ctx.lineTo(px, hi);
      ctx.moveTo(px - 4, lo); ctx.lineTo(px + 4, lo);
      ctx.moveTo(px - 4, hi); ctx.lineTo(px + 4, hi);
      ctx.stroke();
    });
    ctx.restore();
  }
};

function makePanel(row, r, c) {
  const last = r === ROWS.length - 1;
  const areaTop = Math.round(ROW_TOP0 + r * ROW_PITCH);
  const cv = document.createElement('canvas');
  cv.className = 'panel';
  const W = YAX_W + AREA_W + PAD, H = PAD + AREA_H + (last ? XAX_H : PAD);
  cv.width = W; cv.height = H;
  cv.style.left = (AREA_LEFT[c] - YAX_W) + 'px';
  cv.style.top = (areaTop - PAD) + 'px';
  cv.style.width = W + 'px'; cv.style.height = H + 'px';
  document.body.appendChild(cv);

  const [vals, errs] = PANELS[row][c];
  const datasets = SERIES.map((s, k) => ({
    label: s,
    data: vals[s].map((v, i) => ({ x: i + 1, y: v })),
    errors: errs[s] || null,
    borderColor: STYLE[s].color,
    borderWidth: STYLE[s].w,
    borderDash: STYLE[s].dash,
    pointRadius: 0,
    fill: false,
    tension: 0,
    clip: 0,
    order: SERIES.length - k
  }));

  new Chart(cv, {
    type: 'line',
    data: { datasets },
    plugins: [shade, errorBars],
    options: {
      responsive: false,
      animation: false,
      devicePixelRatio: 1,
      layout: { padding: { left: 0, top: PAD, right: PAD, bottom: last ? 0 : PAD } },
      plugins: { legend: { display: false }, tooltip: { enabled: false } },
      scales: {
        x: {
          type: 'linear', min: 1, max: X_MAX[c],
          afterBuildTicks: s => { s.ticks = X_TICKS[c].map(v => ({ value: v })); },
          afterFit: s => { s.height = last ? XAX_H : 0; s.paddingLeft = 0; s.paddingRight = 0; },
          grid: { color: GRID, lineWidth: 1, drawTicks: false },
          border: { display: false },
          ticks: { display: last, padding: 5, maxRotation: 0, autoSkip: false, font: { size: 18 } }
        },
        y: {
          min: Y_RANGE[row][0], max: Y_RANGE[row][1],
          afterBuildTicks: s => { s.ticks = Y_TICKS[row].map(v => ({ value: v })); },
          afterFit: s => { s.width = YAX_W; s.paddingTop = 0; s.paddingBottom = 0; },
          grid: { color: GRID, lineWidth: 1, drawTicks: false },
          border: { display: false },
          ticks: {
            padding: 6, autoSkip: false, font: { size: 18 },
            callback: v => row === 'SUPD' ? String(v) : Number(v).toFixed(1)
          }
        }
      }
    }
  });
}

function addText(text, x, y, size, rotate) {
  const d = document.createElement('div');
  d.className = 'txt';
  d.textContent = text;
  d.style.fontSize = size + 'px';
  d.style.left = x + 'px';
  d.style.top = y + 'px';
  d.style.transform = 'translate(-50%,-50%)' + (rotate ? ' rotate(-90deg)' : '');
  document.body.appendChild(d);
}

ROWS.forEach((row, r) => {
  for (let c = 0; c < 3; c++) makePanel(row, r, c);
  addText(row, 50, Math.round(ROW_TOP0 + r * ROW_PITCH) + AREA_H / 2, 21, true);
});
COL_TITLES.forEach((t, c) => addText(t, AREA_LEFT[c] + AREA_W / 2, 18, 19, false));
addText('Mean squared error to optimality', 20, 692, 25, true);
addText('Number of unassigned elements', 679, 1393, 25, false);

// ---- legend ----
const LEG_SAMPLE_X = [351, 441, 524, 608, 706, 810, 912];
(function legend() {
  const L = 340, T = 1409, W = 677, H = 30;
  const cv = document.createElement('canvas');
  cv.className = 'panel';
  cv.width = W; cv.height = H;
  cv.style.left = L + 'px'; cv.style.top = T + 'px';
  cv.style.width = W + 'px'; cv.style.height = H + 'px';
  document.body.appendChild(cv);
  const ctx = cv.getContext('2d');
  ctx.fillStyle = '#fff';
  ctx.fillRect(0, 0, W, H);
  ctx.strokeStyle = '#222';
  ctx.lineWidth = 1;
  ctx.strokeRect(0.5, 0.5, W - 1, H - 1);
  SERIES.forEach((s, k) => {
    const x0 = LEG_SAMPLE_X[k] - L;
    ctx.save();
    ctx.strokeStyle = STYLE[s].color;
    ctx.lineWidth = STYLE[s].w;
    ctx.setLineDash(STYLE[s].dash);
    ctx.beginPath();
    ctx.moveTo(x0, 15); ctx.lineTo(x0 + 38, 15);
    ctx.stroke();
    ctx.restore();
    ctx.fillStyle = '#000';
    ctx.font = '19px ' + FONT;
    ctx.textBaseline = 'middle';
    ctx.fillText(s, x0 + 47, 16);
  });
})();
</script>
</body>
</html>
